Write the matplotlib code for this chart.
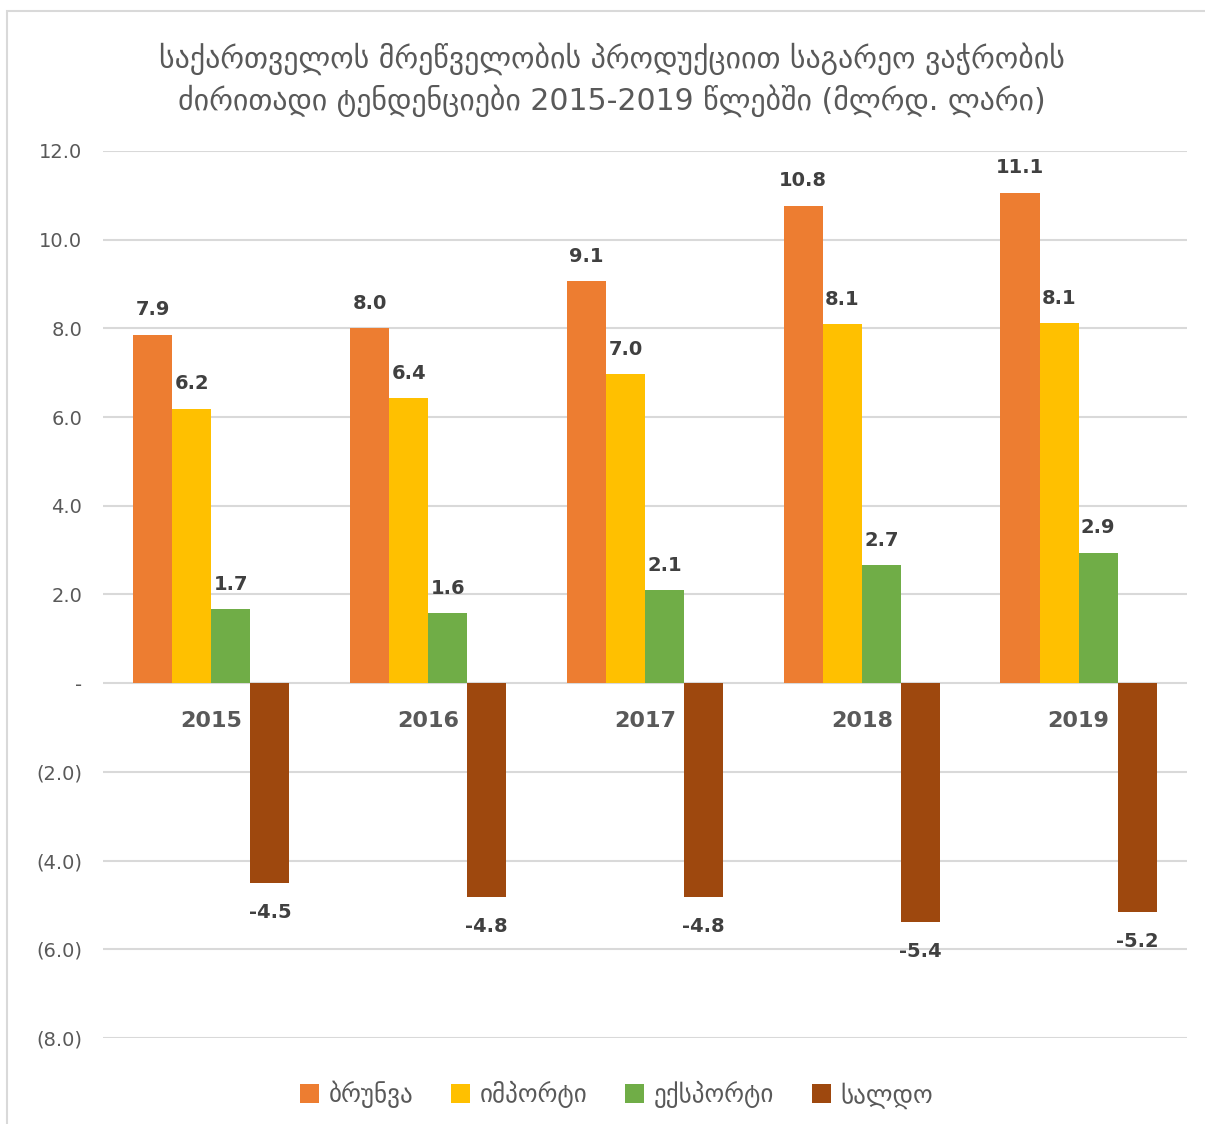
import numpy as np
import matplotlib.pyplot as plt
from matplotlib.patches import Rectangle

years = ["2015", "2016", "2017", "2018", "2019"]
series_names = ["ბრუნვა", "იმპორტი", "ექსპორტი", "სალდო"]
turnover = [7.86, 8.00, 9.06, 10.76, 11.06]
imports = [6.19, 6.42, 6.97, 8.09, 8.11]
exports = [1.67, 1.58, 2.09, 2.66, 2.94]
balance = [-4.51, -4.82, -4.83, -5.38, -5.16]
colors = ["#ED7D31", "#FFC000", "#70AD47", "#9E480E"]

yticks = [12, 10, 8, 6, 4, 2, 0, -2, -4, -6, -8]
ytick_labels = ["12.0", "10.0", "8.0", "6.0", "4.0", "2.0", "-", "(2.0)", "(4.0)", "(6.0)", "(8.0)"]

title = "საქართველოს მრეწველობის პროდუქციით საგარეო ვაჭრობის\nძირითადი ტენდენციები 2015-2019 წლებში (მლრდ. ლარი)"

fig = plt.figure(figsize=(12.05, 11.24), dpi=100)
ax = fig.add_axes([0.0855, 0.0765, 0.8995, 0.7892])

x = np.arange(len(years))
w = 0.18
all_series = [turnover, imports, exports, balance]
for k, (vals, name, c) in enumerate(zip(all_series, series_names, colors)):
    pos = x + (k - 1.5) * w
    ax.bar(pos, vals, width=w, color=c, label=name, zorder=3)
    for px, v in zip(pos, vals):
        if v >= 0:
            ax.text(px, v + 0.35, f"{v:.1f}", ha="center", va="bottom",
                    fontsize=14, fontweight="bold", color="#404040")
        else:
            ax.text(px, v - 0.45, f"{v:.1f}", ha="center", va="top",
                    fontsize=14, fontweight="bold", color="#404040")

for i, yr in enumerate(years):
    ax.text(i, -0.85, yr, ha="center", va="center", fontsize=16,
            fontweight="bold", color="#595959")

ax.set_xlim(-0.5, len(years) - 0.5)
ax.set_ylim(-8, 12)
ax.set_yticks(yticks)
ax.set_yticklabels(ytick_labels, fontsize=14, color="#595959")
ax.set_xticks([])
ax.tick_params(axis="y", length=0, pad=15)
ax.grid(axis="y", color="#D9D9D9", linewidth=1.5, zorder=0)
for s in ax.spines.values():
    s.set_visible(False)

fig.text(0.508, 0.929, title, ha="center", va="center", fontsize=21.5,
         color="#595959", linespacing=1.35)

leg = fig.legend(loc="center", bbox_to_anchor=(0.512, 0.026), ncol=4,
                 frameon=False, fontsize=18, handlelength=0.75, handleheight=0.75,
                 handletextpad=0.4, columnspacing=1.5)
for t in leg.get_texts():
    t.set_color("#595959")

fig.patches.append(Rectangle((0.006, -0.01), 1.5, 1.0, transform=fig.transFigure,
                             fill=False, edgecolor="#D9D9D9", linewidth=1.5))

fig.savefig("out.png", dpi=100)
